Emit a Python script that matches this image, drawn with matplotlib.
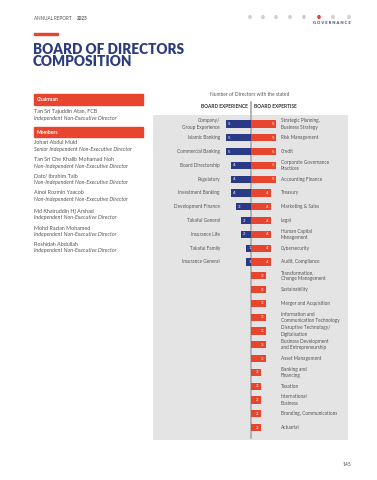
import matplotlib
matplotlib.use("Agg")
import matplotlib.pyplot as plt
from matplotlib.patches import Rectangle, Circle, FancyBboxPatch

plt.rcParams['font.family'] = ['Lato', 'DejaVu Sans']

RED = '#e8452f'
NAVY = '#2b3a86'
TITLE = '#2c3c7e'
GREY = '#e4e4e4'
TXT = '#555555'

# board experience (left side)
exp_labels = ["Company/\nGroup Experience", "Islamic Banking", "Commercial Banking",
              "Board Directorship", "Regulatory", "Investment Banking",
              "Development Finance", "Takaful General", "Insurance Life",
              "Takaful Family", "Insurance General"]
exp_values = [5, 5, 5, 4, 4, 4, 3, 2, 2, 1, 1]

# board expertise (right side)
skill_labels = ["Strategic Planning,\nBusiness Strategy", "Risk Management", "Credit",
                "Corporate Governance\nPractices", "Accounting Finance", "Treasury",
                "Marketing & Sales", "Legal", "Human Capital\nManagement", "Cybersecurity",
                "Audit, Compliance", "Transformation,\nChange Management", "Sustainability",
                "Merger and Acquisition", "Information and\nCommunication Technology",
                "Disruptive Technology/\nDigitalisation", "Business Development\nand Entrepreneurship",
                "Asset Management", "Banking and\nFinancing", "Taxation",
                "International\nBusiness", "Branding, Communications", "Actuarial"]
skill_values = [5, 5, 5, 5, 5, 4, 4, 4, 4, 4, 4, 3, 3, 3, 3, 3, 3, 3, 2, 2, 2, 2, 2]

chairman = [("Tan Sri Tajuddin Atan, FCB", "Independent Non-Executive Director")]
members = [("Johari Abdul Muid", "Senior Independent Non-Executive Director"),
           ("Tan Sri Che Khalib Mohamad Noh", "Non-Independent Non-Executive Director"),
           ("Dato' Ibrahim Taib", "Non-Independent Non-Executive Director"),
           ("Ainol Rozmin Yaacob", "Non-Independent Non-Executive Director"),
           ("Md Khairuddin Hj Arshad", "Independent Non-Executive Director"),
           ("Mohd Razlan Mohamed", "Independent Non-Executive Director"),
           ("Roshidah Abdullah", "Independent Non-Executive Director")]
member_y = [143, 160, 176, 193, 211, 228, 244]

W, H = 377, 480
fig = plt.figure(figsize=(W / 100, H / 100), dpi=100)


def fx(x):
    return x / W


def fy(y):
    return 1 - y / H


# header
fig.text(fx(34), fy(18), "ANNUAL REPORT", fontsize=3.3, color=TXT, va='center')
fig.text(fx(76.5), fy(18), "2023", fontsize=3.3, color=TXT, va='center', weight='bold')
for i, x in enumerate([250, 263, 276, 290, 304, 319, 333, 349]):
    fig.patches.append(Circle((fx(x), fy(17)), 1.1 / W, color=RED if i == 5 else '#cfcfcf',
                              transform=fig.transFigure))
fig.text(fx(351), fy(23.5), "G O V E R N A N C E", fontsize=3.0, color=TITLE, weight='bold',
         ha='right', va='center')

fig.patches.append(Rectangle((fx(34), fy(35)), 24 / W, 2 / H, color=RED, transform=fig.transFigure))
fig.text(fx(33), fy(49.5), "BOARD OF DIRECTORS", fontsize=9.8, color=TITLE, weight='heavy', va='center')
fig.text(fx(33), fy(62), "COMPOSITION", fontsize=9.8, color=TITLE, weight='heavy', va='center')

# director list
for label, top in [("Chairman", 94), ("Members", 127)]:
    fig.patches.append(Rectangle((fx(34), fy(top + 10.5)), 109 / W, 10.5 / H, color=RED,
                                 transform=fig.transFigure))
    fig.text(fx(37), fy(top + 5.3), label, fontsize=3.7, color='white', weight='bold', va='center')

for (name, role), y in zip(chairman + members, [112] + member_y):
    fig.text(fx(34), fy(y), name, fontsize=3.9, color=TXT, va='center')
    fig.text(fx(34), fy(y + 6.5), role, fontsize=3.9, color=TXT, va='center', style='italic')

# chart
fig.text(fx(250), fy(94), "Number of Directors with the stated", fontsize=3.5, color=TXT,
         ha='center', va='center')
fig.text(fx(248), fy(106), "BOARD EXPERIENCE", fontsize=3.5, color='#333333', weight='bold',
         ha='right', va='center')
fig.text(fx(254), fy(106), "BOARD EXPERTISE", fontsize=3.5, color='#333333', weight='bold',
         ha='left', va='center')

x0, x1, top, bot = 153, 348, 115, 440
ax = fig.add_axes([fx(x0), fy(bot), (x1 - x0) / W, (bot - top) / H])
ax.patch.set_visible(False)
ax.add_patch(FancyBboxPatch((0, 0), 1, 1, boxstyle="round,pad=0,rounding_size=0.015",
                            color=GREY, transform=ax.transAxes, zorder=0, mutation_aspect=0.6))
for s in ax.spines.values():
    s.set_visible(False)
ax.set_xticks([])
ax.set_yticks([])

row = 13.8
ax.set_xlim((x0 - 251) / 5, (x1 - 251) / 5)
ax.set_ylim((bot - 124) / row, (top - 124) / row)

ey = list(range(len(exp_values)))
sy = list(range(len(skill_values)))
ax.barh(ey, [-v for v in exp_values], height=0.52, color=NAVY, zorder=2)
ax.barh(sy, skill_values, height=0.52, color=RED, zorder=2)

for y, v, lab in zip(ey, exp_values, exp_labels):
    ax.text(-v + 0.45, y, str(v), fontsize=3.2, color='white', ha='left', va='center', zorder=3)
    ax.text(-6.2, y, lab, fontsize=3.45, color=TXT, ha='right', va='center', linespacing=1.3)
for y, v, lab in zip(sy, skill_values, skill_labels):
    ax.text(v - 0.45, y, str(v), fontsize=3.2, color='white', ha='right', va='center', zorder=3)
    ax.text(6.0, y, lab, fontsize=3.4, color=TXT, ha='left', va='center', linespacing=1.3)

ax.axvline(0, ymin=0.005, ymax=1 + 13 / (bot - top), color='#a8a8a8', lw=1.2, clip_on=False, zorder=1)

fig.text(fx(351), fy(465), "145", fontsize=3.6, color=TXT, ha='right', va='center')

fig.savefig("out.png", dpi=100)
